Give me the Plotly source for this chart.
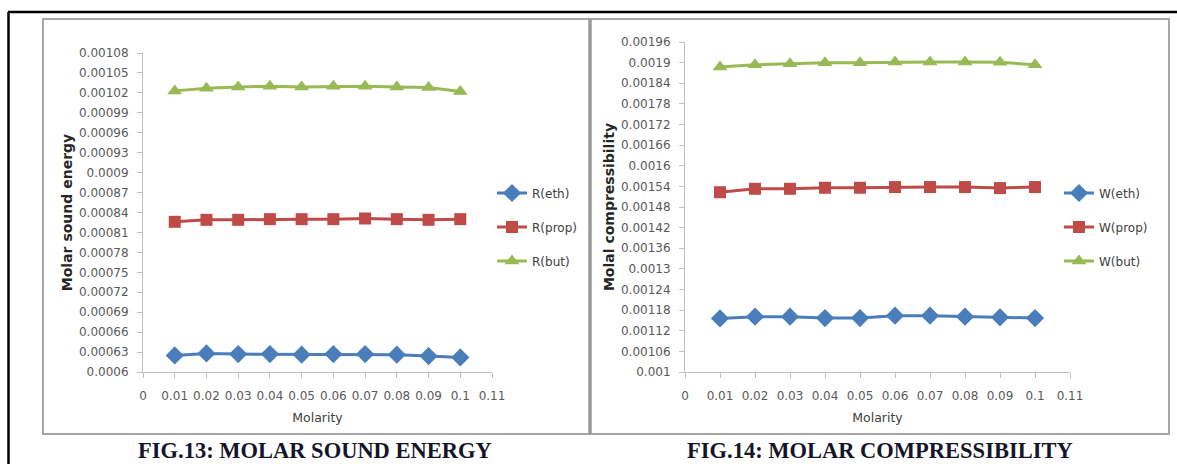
import plotly.graph_objects as go

W, H = 1177, 464

molarity = [0.01, 0.02, 0.03, 0.04, 0.05, 0.06, 0.07, 0.08, 0.09, 0.10]

R_eth = [0.000625, 0.000628, 0.000627, 0.000627, 0.000626, 0.000627, 0.000627, 0.000626, 0.000624, 0.000622]
R_prop = [0.000826, 0.000829, 0.000829, 0.000830, 0.000830, 0.000830, 0.000831, 0.000830, 0.000829, 0.000830]
R_but = [0.001023, 0.001027, 0.001029, 0.001030, 0.001029, 0.001030, 0.001030, 0.001029, 0.001028, 0.001022]

W_eth = [0.001156, 0.001161, 0.001161, 0.001157, 0.001157, 0.001164, 0.001164, 0.001161, 0.001159, 0.001157]
W_prop = [0.001523, 0.001533, 0.001533, 0.001536, 0.001536, 0.001538, 0.001538, 0.001538, 0.001535, 0.001538]
W_but = [0.001887, 0.001894, 0.001897, 0.001900, 0.001900, 0.001902, 0.001902, 0.001902, 0.001901, 0.001894]

x_tick_labels = ["0", "0.01", "0.02", "0.03", "0.04", "0.05", "0.06", "0.07", "0.08", "0.09", "0.1", "0.11"]
y1_tick_labels = ["0.0006", "0.00063", "0.00066", "0.00069", "0.00072", "0.00075", "0.00078", "0.00081",
                  "0.00084", "0.00087", "0.0009", "0.00093", "0.00096", "0.00099", "0.00102", "0.00105", "0.00108"]
y2_tick_labels = ["0.001", "0.00106", "0.00112", "0.00118", "0.00124", "0.0013", "0.00136", "0.00142",
                  "0.00148", "0.00154", "0.0016", "0.00166", "0.00172", "0.00178", "0.00184", "0.0019", "0.00196"]

BLUE, RED, GREEN = "#4A7EBB", "#BE4B48", "#98B954"
AXC = "#BFBFBF"
TXT = "#595959"
FONT = "DejaVu Sans"


def px(x):
    return x / W


def py(y):
    return 1 - y / H


fig = go.Figure()

left = [("R(eth)", R_eth, BLUE, "diamond", 14),
        ("R(prop)", R_prop, RED, "square", 12),
        ("R(but)", R_but, GREEN, "triangle-up", 13)]
right = [("W(eth)", W_eth, BLUE, "diamond", 14),
         ("W(prop)", W_prop, RED, "square", 12),
         ("W(but)", W_but, GREEN, "triangle-up", 13)]

for i, (name, ys, c, sym, sz) in enumerate(left):
    fig.add_trace(go.Scatter(x=molarity, y=ys, name=name, mode="lines+markers",
                             line=dict(color=c, width=3),
                             marker=dict(symbol=sym, size=sz, color=c),
                             legendgroup="L%d" % i, legend="legend",
                             xaxis="x", yaxis="y"))
for i, (name, ys, c, sym, sz) in enumerate(right):
    fig.add_trace(go.Scatter(x=molarity, y=ys, name=name, mode="lines+markers",
                             line=dict(color=c, width=3),
                             marker=dict(symbol=sym, size=sz, color=c),
                             legendgroup="R%d" % i, legend="legend2",
                             xaxis="x2", yaxis="y2"))

xt_vals = [float(s) for s in x_tick_labels]
common_x = dict(range=[0, 0.11], tickvals=xt_vals, ticktext=x_tick_labels, automargin=False,
                showline=True, linecolor=AXC, linewidth=1, ticks="outside", ticklen=5,
                tickcolor=AXC, showgrid=False, zeroline=False,
                tickfont=dict(family=FONT, size=12, color=TXT), ticklabelstandoff=8,
                title=dict(text="Molarity", font=dict(family=FONT, size=12.5, color="#404040"), standoff=10))
common_y = dict(showline=True, linecolor=AXC, linewidth=1, ticks="outside", ticklen=5, automargin=False,
                tickcolor=AXC, showgrid=False, zeroline=False,
                tickfont=dict(family=FONT, size=12, color=TXT), ticklabelstandoff=6)

fig.update_layout(
    width=W, height=H, margin=dict(l=0, r=0, t=0, b=0, autoexpand=False),
    paper_bgcolor="white", plot_bgcolor="white",
    xaxis=dict(domain=[px(143), px(492)], anchor="y", **common_x),
    xaxis2=dict(domain=[px(685), px(1070)], anchor="y2", **common_x),
    yaxis=dict(domain=[py(372), py(53)], anchor="x", range=[0.0006, 0.00108],
               tickvals=[float(s) for s in y1_tick_labels], ticktext=y1_tick_labels,
               title=dict(text="<b>Molar sound energy</b>",
                          font=dict(family=FONT, size=14, color="#262626"), standoff=3),
               **common_y),
    yaxis2=dict(domain=[py(372), py(42)], anchor="x2", range=[0.001, 0.00196],
                tickvals=[float(s) for s in y2_tick_labels], ticktext=y2_tick_labels,
                title=dict(text="<b>Molal compressibility</b>",
                           font=dict(family=FONT, size=14, color="#262626"), standoff=3),
                **common_y),
    legend=dict(x=px(492), y=py(227), xanchor="left", yanchor="middle",
                font=dict(family=FONT, size=12, color="#404040"),
                tracegroupgap=15, bgcolor="rgba(0,0,0,0)", itemwidth=30),
    legend2=dict(x=px(1059), y=py(227), xanchor="left", yanchor="middle",
                 font=dict(family=FONT, size=12, color="#404040"),
                 tracegroupgap=15, bgcolor="rgba(0,0,0,0)", itemwidth=30),
    showlegend=True,
)

shapes = [
    # outer black frame
    dict(type="line", xref="paper", yref="paper", x0=px(8), x1=1, y0=py(12), y1=py(12),
         line=dict(color="black", width=2.5)),
    dict(type="line", xref="paper", yref="paper", x0=px(8.5), x1=px(8.5), y0=py(12), y1=0,
         line=dict(color="black", width=2.5)),
    # chart boxes
    dict(type="rect", xref="paper", yref="paper", x0=px(43), x1=px(590), y0=py(434), y1=py(19),
         line=dict(color="#A6A6A6", width=2)),
    dict(type="rect", xref="paper", yref="paper", x0=px(590), x1=px(1169), y0=py(434), y1=py(19),
         line=dict(color="#A6A6A6", width=2)),
    dict(type="line", xref="paper", yref="paper", x0=px(590), x1=px(590), y0=py(434), y1=py(19),
         line=dict(color="#9A9A9A", width=3.5)),
]
fig.update_layout(shapes=shapes)

cap_font = dict(family="Liberation Serif", size=22.5, color="#15152a")
fig.add_annotation(text="<b>FIG.13: MOLAR SOUND ENERGY</b>", xref="paper", yref="paper",
                   x=px(315), y=py(450), xanchor="center", yanchor="middle",
                   showarrow=False, font=cap_font)
fig.add_annotation(text="<b>FIG.14: MOLAR COMPRESSIBILITY</b>", xref="paper", yref="paper",
                   x=px(880), y=py(450), xanchor="center", yanchor="middle",
                   showarrow=False, font=cap_font)

fig.write_html("out.html")
